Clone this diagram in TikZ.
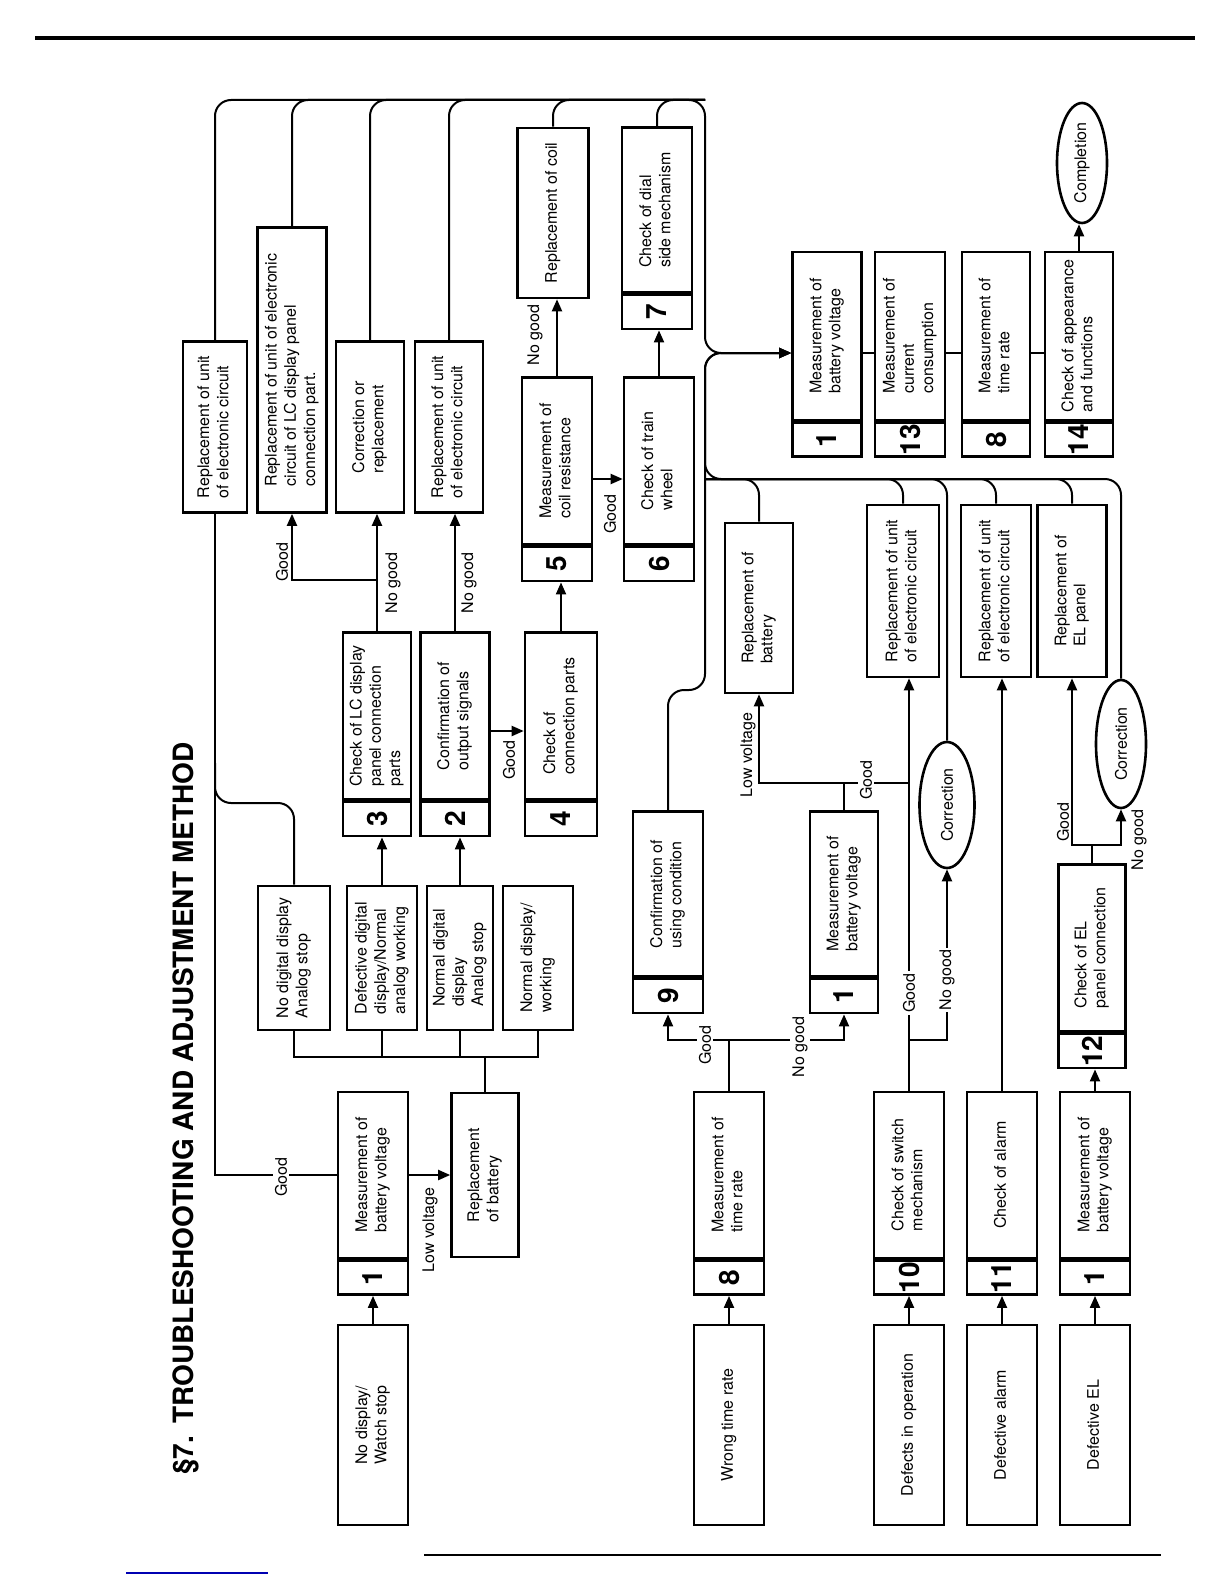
\documentclass[tikz,border=0pt]{standalone}
\usepackage{fontspec}
\setmainfont{TeX Gyre Heros}
\usepackage{graphicx}
\usetikzlibrary{arrows.meta, shapes.geometric}

\newcommand{\vtext}[1]{\rotatebox{90}{\begin{tabular}{@{}l@{}}#1\end{tabular}}}
\newcommand{\vnum}[1]{\rotatebox{90}{#1}}

\begin{document}
\begin{tikzpicture}[x=0.5pt, y=-0.5pt,
  every node/.style={font=\fontsize{8}{9.6}\selectfont},
  box/.style={draw, line width=1.3pt, inner sep=0pt},
  inbox/.style={box, minimum width=35pt, minimum height=100pt},
  mbox/.style={box, minimum width=35pt, minimum height=83pt},
  numcell/.style={box, minimum height=17pt, anchor=north, font=\fontsize{14}{14}\selectfont\bfseries},
  oval/.style={box, ellipse},
  lbl/.style={rotate=90, fill=white, inner sep=1pt},
  conn/.style={line width=1pt},
  bus/.style={conn, rounded corners=8pt},
  arrowed/.style={-{Triangle[length=6pt, width=5pt]}},
]
\useasboundingbox (0,0) rectangle (1224,1584);

% page rules
\draw[line width=2pt] (35,38) -- (1195,38);
\draw[line width=0.6pt] (424,1555) -- (1161,1555);
\draw[line width=0.6pt, blue!70!black] (126,1573) -- (268,1573);

\node[rotate=90, anchor=base west, font=\fontsize{14}{14}\selectfont\bfseries] (title) at (193,1482)
  {§7.\hspace{0.45em}TROUBLESHOOTING AND ADJUSTMENT METHOD};

% symptoms
\node[inbox] (s1) at (373,1425) {\vtext{No display/\\Watch stop}};
\node[inbox] (s2) at (729,1425) {\vtext{Wrong time rate}};
\node[inbox] (s3) at (909,1425) {\vtext{Defects in operation}};
\node[inbox] (s4) at (1002,1425) {\vtext{Defective alarm}};
\node[inbox] (s5) at (1095,1425) {\vtext{Defective EL}};

% first checks
\node[mbox] (m1) at (373,1175) {\vtext{Measurement of\\battery voltage}};
\node[numcell, minimum width=35pt] (m1n) at (m1.south) {\vnum{1}};
\node[mbox] (m8) at (729,1175) {\vtext{Measurement of\\time rate}};
\node[numcell, minimum width=35pt] (m8n) at (m8.south) {\vnum{8}};
\node[mbox] (m10) at (909,1175) {\vtext{Check of switch\\mechanism}};
\node[numcell, minimum width=35pt] (m10n) at (m10.south) {\vnum{10}};
\node[mbox] (m11) at (1002,1175) {\vtext{Check of alarm}};
\node[numcell, minimum width=35pt] (m11n) at (m11.south) {\vnum{11}};
\node[mbox] (m1c) at (1095,1175) {\vtext{Measurement of\\battery voltage}};
\node[numcell, minimum width=35pt] (m1cn) at (m1c.south) {\vnum{1}};
\node[box, minimum width=33.5pt, minimum height=82pt] (rb1) at (485,1175) {\vtext{Replacement\\of battery}};

% display states
\node[box, minimum width=36pt, minimum height=72pt] (sA) at (294,958) {\vtext{No digital display\\Analog stop}};
\node[box, minimum width=35pt, minimum height=72pt] (sB) at (382,958) {\vtext{Defective digital\\display/Normal\\analog working}};
\node[box, minimum width=33pt, minimum height=72pt] (sC) at (460,958) {\vtext{Normal digital\\display\\Analog stop}};
\node[box, minimum width=35pt, minimum height=72pt] (sD) at (538,958) {\vtext{Normal display/\\working}};

\node[box, minimum width=34pt, minimum height=83.5pt] (b3) at (377,716) {\vtext{Check of LC display\\panel connection\\parts}};
\node[numcell, minimum width=34pt] (b3n) at (b3.south) {\vnum{3}};
\node[box, minimum width=34.5pt, minimum height=83.5pt] (b2) at (455,716) {\vtext{Confirmation of\\output signals}};
\node[numcell, minimum width=34.5pt] (b2n) at (b2.south) {\vnum{2}};
\node[box, minimum width=36pt, minimum height=83.5pt] (b4) at (561,716) {\vtext{Check of\\connection parts}};
\node[numcell, minimum width=36pt] (b4n) at (b4.south) {\vnum{4}};

\node[box, minimum width=35pt, minimum height=83.5pt] (b5) at (557,461) {\vtext{Measurement of\\coil resistance}};
\node[numcell, minimum width=35pt] (b5n) at (b5.south) {\vnum{5}};
\node[box, minimum width=35pt, minimum height=83.5pt] (b6) at (659,461) {\vtext{Check of train\\wheel}};
\node[numcell, minimum width=35pt] (b6n) at (b6.south) {\vnum{6}};
\node[box, minimum width=35pt, minimum height=82.5pt] (b7) at (657,210) {\vtext{Check of dial\\side mechanism}};
\node[numcell, minimum width=35pt] (b7n) at (b7.south) {\vnum{7}};
\node[box, minimum width=35.5pt, minimum height=85pt] (rc) at (553,213) {\vtext{Replacement of coil}};

% repairs, upper row
\node[box, minimum width=32pt, minimum height=85.5pt] (R1) at (215,427) {\vtext{Replacement of unit\\of electronic circuit}};
\node[box, minimum width=34.5pt, minimum height=142.5pt] (R2) at (292,370) {\vtext{Replacement of unit of electronic\\circuit of LC display panel\\connection part.}};
\node[box, minimum width=34pt, minimum height=85.5pt] (R3) at (370,427) {\vtext{Correction or\\replacement}};
\node[box, minimum width=34pt, minimum height=85.5pt] (R4) at (449,427) {\vtext{Replacement of unit\\of electronic circuit}};

% lower branch
\node[box, minimum width=35pt, minimum height=82.5pt] (b9) at (668,894) {\vtext{Confirmation of\\using condition}};
\node[numcell, minimum width=35pt] (b9n) at (b9.south) {\vnum{9}};
\node[box, minimum width=34pt, minimum height=82.5pt] (m1b) at (844,894) {\vtext{Measurement of\\battery voltage}};
\node[numcell, minimum width=34pt] (m1bn) at (m1b.south) {\vnum{1}};
\node[box, minimum width=33.5pt, minimum height=83.5pt] (b12) at (1092,948) {\vtext{Check of EL\\panel connection}};
\node[numcell, minimum width=33.5pt] (b12n) at (b12.south) {\vnum{12}};

\node[box, minimum width=34pt, minimum height=85pt] (rb2) at (759,608) {\vtext{Replacement of\\battery}};
\node[box, minimum width=36pt, minimum height=86pt] (R5) at (903,591) {\vtext{Replacement of unit\\of electronic circuit}};
\node[box, minimum width=35pt, minimum height=86pt] (R6) at (996,591) {\vtext{Replacement of unit\\of electronic circuit}};
\node[box, minimum width=34.5pt, minimum height=86pt] (R7) at (1072,591) {\vtext{Replacement of\\EL panel}};
\node[oval, minimum width=27.5pt, minimum height=63pt] (c1) at (947,805) {\vnum{Correction}};
\node[oval, minimum width=25pt, minimum height=64pt] (c2) at (1121,744) {\vnum{Correction}};

% final checks
\node[box, minimum width=34.5pt, minimum height=84pt] (f1) at (827,336) {\vtext{Measurement of\\battery voltage}};
\node[numcell, minimum width=34.5pt] (f1n) at (f1.south) {\vnum{1}};
\node[box, minimum width=35pt, minimum height=84pt] (f13) at (910,336) {\vtext{Measurement of\\current\\consumption}};
\node[numcell, minimum width=35pt] (f13n) at (f13.south) {\vnum{13}};
\node[box, minimum width=34pt, minimum height=84pt] (f8) at (996,336) {\vtext{Measurement of\\time rate}};
\node[numcell, minimum width=34pt] (f8n) at (f8.south) {\vnum{8}};
\node[box, minimum width=34pt, minimum height=84pt] (f14) at (1079,336) {\vtext{Check of appearance\\and functions}};
\node[numcell, minimum width=34pt] (f14n) at (f14.south) {\vnum{14}};
\node[oval, minimum width=25pt, minimum height=60pt] (done) at (1082,163) {\vnum{Completion}};

% bus points
\coordinate (tb) at (705,100);
\coordinate (lb) at (705,479);
\coordinate (bj) at (705,690);
\coordinate (mj) at (705,353);
\coordinate (aj) at (215,803);
\coordinate (gb) at (485,1057);
\coordinate (b3j) at (377,580);
\coordinate (m8j) at (729,1040);
\coordinate (m1bj) at (844,783);
\coordinate (m10j) at (909,1040);
\coordinate (b12j) at (1092,845);

% upper return bus
\draw[bus, arrowed] (R1.north) |- (tb) |- (f1.west |- mj);
\draw[bus] (R2.north) |- (tb);
\draw[bus] (R3.north) |- (tb);
\draw[bus] (R4.north) |- (tb);
\draw[bus] (rc.north) |- (tb);
\draw[bus] (b7.north) |- (tb);

% lower return bus
\draw[bus, arrowed] (c2.north) |- (lb) |- (f1.west |- mj);
\draw[bus] (rb2.north) |- (lb);
\draw[bus] (R5.north) |- (lb);
\draw[bus] (c1.north) |- (lb);
\draw[bus] (R6.north) |- (lb);
\draw[bus] (R7.north) |- (lb);
\draw[bus, arrowed] (b9.north) |- (bj) |- (f1.west |- mj);

% no display / watch stop
\draw[conn, arrowed] (s1.north) -- (m1n.south);
\draw[conn] (m1.west) -| (R1.south);
\draw[bus] (sA.north) |- (aj) -- ++(0,-40);
\draw[conn, arrowed] (m1.east) -- (rb1.west);
\draw[conn] (rb1.north) -- (gb);
\draw[conn] (sA.south) |- (gb);
\draw[conn] (sD.south) |- (gb);
\draw[conn] (sB.south) -- (sB.south |- gb);
\draw[conn] (sC.south) -- (sC.south |- gb);
\draw[conn, arrowed] (sB.north) -- (sB.north |- b3n.south);
\draw[conn, arrowed] (sC.north) -- (sC.north |- b2n.south);
\draw[conn, arrowed] (b3.north) -- (b3.north |- R3.south);
\draw[conn, arrowed] (b3j) -| (R2.south);
\draw[conn, arrowed] (b2.north) -- (b2.north |- R4.south);
\draw[conn, arrowed] (b2.east |- 0,731) -- (b4.west |- 0,731);
\draw[conn, arrowed] (b4.north) -- (b4.north |- b5n.south);
\draw[conn, arrowed] (b5.north) -- (b5.north |- rc.south);
\draw[conn, arrowed] (b5.east |- 0,479) -- (b6.west |- 0,479);
\draw[conn, arrowed] (b6.north) -- (b6.north |- b7n.south);

% wrong time rate
\draw[conn, arrowed] (s2.north) -- (m8n.south);
\draw[conn] (m8.north) -- (m8j);
\draw[conn, arrowed] (m8j) -| (b9n.south);
\draw[conn, arrowed] (m8j) -| (m1bn.south);
\draw[conn] (m1b.north) -- (m1bj);
\draw[conn, arrowed] (m1bj) -| (rb2.south);
\draw[conn] (m1bj) -- (m1bj -| m10.north);

% defects in operation, alarm, EL
\draw[conn, arrowed] (s3.north) -- (m10n.south);
\draw[conn, arrowed] (m10.north) -- (m10.north |- R5.south);
\draw[conn, arrowed] (m10j) -| (c1.south);
\draw[conn, arrowed] (s4.north) -- (m11n.south);
\draw[conn, arrowed] (m11.north) -- (m11.north |- R6.south);
\draw[conn, arrowed] (s5.north) -- (m1cn.south);
\draw[conn, arrowed] (m1c.north) -- (m1c.north |- b12n.south);
\draw[conn] (b12.north) -- (b12j);
\draw[conn, arrowed] (b12j) -| (R7.south);
\draw[conn, arrowed] (b12j) -| (c2.south);

% final sequence
\draw[conn] (f1.east |- mj) -- (f13.west |- mj);
\draw[conn] (f13.east |- mj) -- (f8.west |- mj);
\draw[conn] (f8.east |- mj) -- (f14.west |- mj);
\draw[conn, arrowed] (f14.north) -- (f14.north |- done.south);

% branch labels
\node[lbl] (l1) at (281,1177) {Good};
\node[lbl] (l2) at (430,1230) {Low voltage};
\node[lbl] (l3) at (282,562) {Good};
\node[lbl] (l4) at (393,583) {No good};
\node[lbl] (l5) at (469,583) {No good};
\node[lbl] (l6) at (509,760) {Good};
\node[lbl] (l7) at (535,335) {No good};
\node[lbl] (l8) at (610,514) {Good};
\node[lbl] (l9) at (705,1045) {Good};
\node[lbl] (l10) at (800,1047) {No good};
\node[lbl] (l11) at (748,755) {Low voltage};
\node[lbl] (l12) at (866,780) {Good};
\node[lbl] (l13) at (909,993) {Good};
\node[lbl] (l14) at (947,980) {No good};
\node[lbl] (l15) at (1063,822) {Good};
\node[lbl] (l16) at (1139,840) {No good};
\end{tikzpicture}
\end{document}
